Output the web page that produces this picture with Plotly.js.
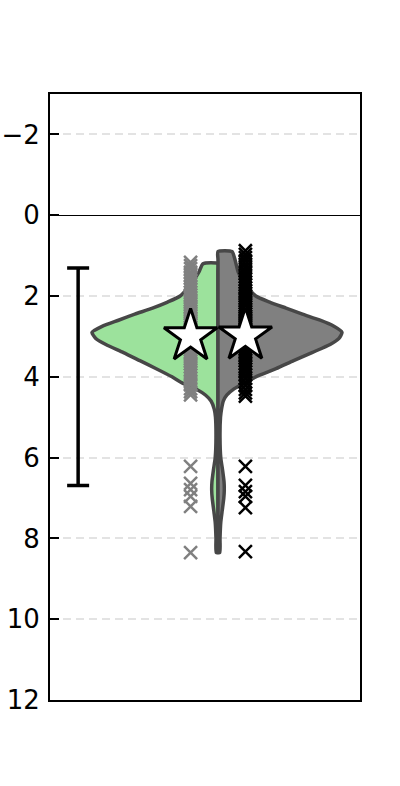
<!DOCTYPE html>
<html>
<head>
<meta charset="utf-8">
<script src="https://cdn.plot.ly/plotly-3.0.1.min.js"></script>
<style>html,body{margin:0;padding:0;background:#fff;}#chart{width:400px;height:786px;}</style>
</head>
<body>
<div id="chart"></div>
<script>
// ---- data ----
// density profile of the split violin (normalised, peak = 1)
const leftLevels  = [1.2,1.4,1.6,1.8,2.0,2.15,2.3,2.45,2.6,2.75,2.9,3.05,3.2,3.4,3.6,3.8,4.0,4.15,4.3,4.45,4.6,4.8,5.0,5.5,6.0,6.3,6.6,6.8,7.0,7.3,7.6,8.0,8.35];
const leftDensity = [0.119,0.15,0.19,0.238,0.30,0.40,0.52,0.66,0.79,0.92,1.0,0.97,0.89,0.75,0.62,0.49,0.365,0.285,0.175,0.10,0.055,0.03,0.02,0.016,0.022,0.036,0.048,0.05,0.046,0.034,0.022,0.016,0.014];
const rightLevels  = [0.9,1.1,1.4,1.7,2.0,2.15,2.3,2.45,2.6,2.75,2.9,3.05,3.2,3.4,3.6,3.8,4.0,4.15,4.3,4.45,4.6,4.8,5.0,5.5,6.0,6.3,6.6,6.8,7.0,7.3,7.6,8.0,8.35];
const rightDensity = [0.111,0.135,0.16,0.21,0.30,0.41,0.54,0.67,0.81,0.92,0.984,0.96,0.89,0.746,0.60,0.46,0.30,0.21,0.127,0.071,0.042,0.028,0.02,0.016,0.022,0.036,0.048,0.05,0.046,0.034,0.022,0.016,0.014];

// individual observations
const leftPoints = [1.17,1.25,1.32,1.41,1.48,1.55,1.63,1.70,1.78,1.84,1.91,1.97,2.03,2.10,2.16,2.21,2.27,2.33,2.38,2.43,2.49,2.54,2.58,2.63,2.68,2.72,2.77,2.81,2.86,2.90,2.95,2.99,3.04,3.09,3.13,3.18,3.23,3.28,3.33,3.39,3.44,3.50,3.56,3.62,3.68,3.75,3.82,3.89,3.96,4.04,4.12,4.20,4.29,4.37,4.45,6.22,6.64,6.79,6.96,7.21,8.35];
const rightPoints = [0.88,0.97,1.05,1.13,1.21,1.29,1.37,1.44,1.52,1.59,1.66,1.73,1.80,1.87,1.93,1.99,2.05,2.11,2.17,2.23,2.28,2.34,2.39,2.44,2.50,2.55,2.60,2.64,2.69,2.74,2.78,2.83,2.88,2.92,2.97,3.01,3.06,3.11,3.16,3.21,3.26,3.31,3.37,3.42,3.48,3.54,3.60,3.67,3.74,3.81,3.88,3.96,4.04,4.13,4.22,4.31,4.40,4.48,6.22,6.69,6.84,6.96,7.24,8.33];

// means (stars)
const leftMean = 3.0;
const rightMean = 2.98;

// error bar
const errCenter = 4.0;
const errHalf = 2.69;

// ticks
const tickValues = [-2,0,2,4,6,8,10,12];
const tickLabels = ['\u22122','0','2','4','6','8','10','12'];

// ---- layout constants ----
const HALF_W = 0.4;     // violin half width (x units)
const PT_OFF = 0.087;   // offset of the point columns
const ERR_X = -0.444;

function halfShape(levels, dens, sign){
  const xs = [], ys = [];
  for (let i = 0; i < levels.length; i++){ xs.push(sign*HALF_W*dens[i]); ys.push(levels[i]); }
  for (let i = levels.length-1; i >= 0; i--){ xs.push(0); ys.push(levels[i]); }
  xs.push(xs[0]); ys.push(ys[0]);
  return {xs, ys};
}
const L = halfShape(leftLevels, leftDensity, -1);
const R = halfShape(rightLevels, rightDensity, 1);

const outline = '#474747';
const traces = [
  {x:L.xs, y:L.ys, type:'scatter', mode:'lines', fill:'toself', fillcolor:'#9ce29c',
   line:{color:outline, width:3.5, shape:'spline', smoothing:0.6}, hoverinfo:'skip'},
  {x:R.xs, y:R.ys, type:'scatter', mode:'lines', fill:'toself', fillcolor:'#808080',
   line:{color:outline, width:3.5, shape:'spline', smoothing:0.6}, hoverinfo:'skip'},
  {x:leftPoints.map(()=>-PT_OFF), y:leftPoints, type:'scatter', mode:'markers',
   marker:{symbol:'x-thin', size:13, color:'#808080', line:{width:2.5, color:'#808080'}}},
  {x:rightPoints.map(()=>PT_OFF), y:rightPoints, type:'scatter', mode:'markers',
   marker:{symbol:'x-thin', size:13, color:'#000000', line:{width:2.5, color:'#000000'}}},
  {x:[-PT_OFF, PT_OFF], y:[leftMean, rightMean], type:'scatter', mode:'markers',
   marker:{symbol:'star', size:40, color:'#ffffff', line:{width:3, color:'#000000'}}},
  {x:[ERR_X], y:[errCenter], type:'scatter', mode:'markers',
   marker:{size:1, color:'rgba(0,0,0,0)'},
   error_y:{type:'data', symmetric:true, array:[errHalf], color:'#000000', thickness:3.5, width:11}}
];

const layout = {
  width:400, height:786,
  margin:{l:50, r:40, t:94, b:86},
  paper_bgcolor:'#ffffff', plot_bgcolor:'#ffffff',
  showlegend:false,
  font:{family:'DejaVu Sans', size:26, color:'#000000'},
  xaxis:{range:[-0.5333, 0.4508], showgrid:false, zeroline:false, showticklabels:false,
         ticks:'', showline:true, mirror:true, linecolor:'#000000', linewidth:2, fixedrange:true},
  yaxis:{range:[12, -3], autorange:false, tickvals:tickValues, ticktext:tickLabels,
         ticks:'inside', ticklen:9, tickwidth:2, tickcolor:'#000000',
         showline:true, mirror:true, linecolor:'#000000', linewidth:2,
         showgrid:true, gridcolor:'#e3e3e3', gridwidth:2, griddash:'8px,5px',
         zeroline:true, zerolinecolor:'#000000', zerolinewidth:1.3,
         tickfont:{family:'DejaVu Sans', size:26, color:'#000000'}, ticklabelstandoff:3}
};

Plotly.newPlot('chart', traces, layout, {staticPlot:true, displayModeBar:false});
</script>
</body>
</html>
